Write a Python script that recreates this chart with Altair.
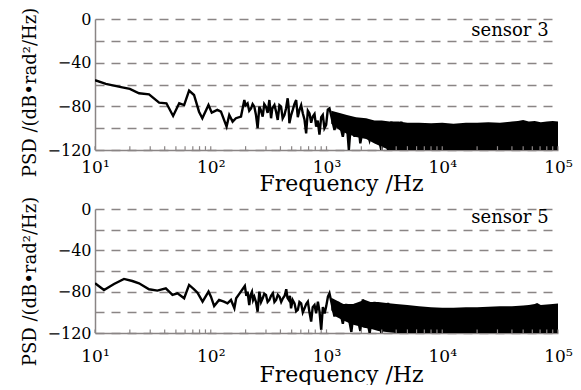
import altair as alt
import pandas as pd

# ---------------- data ----------------
decades = [10, 100, 1000, 10000, 100000]
minor_ticks = [20, 30, 40, 50, 60, 70, 80, 90,
               200, 300, 400, 500, 600, 700, 800, 900,
               2000, 3000, 4000, 5000, 6000, 7000, 8000, 9000,
               20000, 30000, 40000, 50000, 60000, 70000, 80000, 90000]
y_ticks = [0, -20, -40, -60, -80, -100, -120]

# sensor 3 : sparse part of the spectrum (line)
s3_freq = [10, 12.4, 17.2, 20, 24, 29.3, 35.8, 41.4, 47.3, 53.4, 58.9, 65, 71.7, 79.2,
           84.6, 95.6, 102, 114, 122.5, 137, 144.5, 154.5, 165, 182.5, 195, 200, 208,
           215, 223, 230, 238, 246, 254, 263, 270, 281, 290, 300, 310, 321, 332, 340,
           355, 367, 379, 392, 405, 418, 433, 447, 462, 470, 478, 495, 511, 528, 547,
           565, 584, 604, 624, 645, 667, 690, 713, 737, 761, 788, 814, 840, 869, 900,
           929, 960, 993, 1026, 1061, 1172, 1253, 1384, 1482, 1560, 1636, 1747, 1867,
           1958, 2134, 2356, 2604, 2977, 3178, 3398, 3633, 4011, 4432, 4735]
s3_db = [-56, -59.5, -62.6, -64, -68, -69, -76.6, -77.2, -88.8, -77.2, -78.8, -65.6,
         -69.6, -84.9, -90.9, -78.8, -85.8, -83.3, -84.9, -98.6, -87.9, -94, -90.9,
         -89.4, -74.2, -79, -77.2, -84, -81.8, -78, -80.3, -88, -100, -80.3, -83,
         -89.4, -78, -80.3, -86, -74.2, -90.9, -82, -78.8, -85, -92.5, -79, -80.3,
         -91, -87.9, -82, -72.6, -80, -95.5, -88, -83.3, -78, -74.2, -90, -83.3, -79,
         -86.4, -92, -104.7, -84, -86.4, -95, -89.4, -87, -98.6, -93, -106, -90,
         -87.9, -100, -97, -83, -81.8, -101.6, -88, -107.8, -89.4, -120, -91, -107.8,
         -92.5, -113.9, -92.5, -111, -94, -120, -94, -120, -94, -118, -94, -120]

# sensor 3 : dense part of the spectrum (upper / lower envelope)
s3_band_freq = [1100, 1300, 1500, 1800, 2200, 2600, 3000, 3500, 4200, 5000, 6300,
                8000, 10000, 12500, 16000, 20000, 25000, 31500, 40000, 45000, 50000,
                56000, 63000, 71000, 80000, 90000, 100000]
s3_band_top = [-84, -86, -88, -90, -91, -93, -93, -94, -94, -95, -95, -95.5, -95,
               -96, -95, -95, -94.5, -95, -94, -93.5, -92.5, -94, -93.5, -94.5, -94,
               -93.5, -94]
s3_band_bottom = [-96, -102, -105, -108, -110, -114, -117, -120, -120, -120, -120,
                  -120, -120, -120, -120, -120, -120, -120, -120, -120, -120, -120,
                  -120, -120, -120, -120, -120]

# sensor 5 : sparse part
s5_freq = [10, 11.96, 14.6, 17.8, 21, 24, 29.3, 34.6, 40.9, 46.7, 51.6, 58.9, 65, 71.8,
           76.8, 85, 95.7, 100.4, 107, 118, 130, 139.5, 149.6, 160, 165.8, 177.6, 197,
           203, 208, 215, 221, 227, 232, 238, 246, 254, 263, 272, 281, 290, 300, 310,
           321, 332, 344, 355, 367, 380, 393, 406, 420, 435, 449, 460, 472, 483, 494,
           510, 529, 547, 565, 584, 604, 624, 646, 667, 690, 713, 737, 760, 788, 814,
           843, 870, 900, 930, 963, 995, 1029, 1061, 1172, 1260, 1384, 1480, 1640,
           1750, 1960, 2060, 2360, 2600, 2980, 3400, 4000]
s5_db = [-71.9, -78.4, -72.6, -67.7, -69.7, -71.9, -77.7, -79, -76.8, -83.2, -81.6,
         -86.4, -73.5, -77.7, -81, -89.7, -80, -84.9, -93.9, -88, -89.7, -91.3, -88,
         -96.1, -86.4, -81.6, -74.5, -84, -80, -92.9, -83, -80, -88, -84.9, -90,
         -99.4, -80, -90, -86.4, -82, -83.2, -90, -88, -84, -81.6, -90, -88, -83,
         -84.9, -90, -86.4, -84, -77.7, -86, -88, -84, -96.1, -88, -91.3, -99, -97.7,
         -90, -91.3, -100, -96.1, -92, -89.7, -100, -109, -95, -92.9, -101, -89.7,
         -99, -117, -95, -101, -94, -84.9, -81.6, -104, -90, -111, -92, -119, -92,
         -118, -87.5, -120, -90, -120, -91, -120]

s5_band_freq = [1100, 1200, 1400, 1700, 2000, 2100, 2400, 2800, 3300, 4000, 5000,
                6300, 8000, 10000, 12500, 16000, 20000, 25000, 31500, 40000, 50000,
                56000, 63000, 66000, 71000, 80000, 90000, 100000]
s5_band_top = [-86, -88, -92, -92, -89, -87.5, -90, -90, -91, -92, -93, -94, -95,
               -95.5, -95.5, -95, -95, -94.5, -94, -94, -93.5, -93, -92, -91, -93,
               -92.5, -92, -91.5]
s5_band_bottom = [-98, -104, -108, -112, -114, -115, -116, -118, -119, -120,
                  -120, -120, -120, -120, -120, -120, -120, -120, -120, -120, -120,
                  -120, -120, -120, -120, -120, -120, -120]

labels = ["sensor 3", "sensor 5"]
label_freq = [83000, 83000]
label_db = [-11, -9]

TICK_LEN_DB = 3.5
FONT = "DejaVu Serif"
GRAY = "#8a8585"

sup = "datum.value == 10 ? '10\u00b9' : datum.value == 100 ? '10\u00b2' : " \
      "datum.value == 1000 ? '10\u00b3' : datum.value == 10000 ? '10\u2074' : '10\u2075'"


def x_axis(label_pad, title_pad):
    return alt.Axis(values=decades, labelExpr=sup, title="Frequency /Hz",
                    ticks=False, grid=False, domainColor=GRAY,
                    domainWidth=1.5, labelFontSize=17, labelPadding=label_pad,
                    labelColor="black", titleFontSize=22,
                    titleFontWeight="normal", titlePadding=title_pad,
                    titleX=246, labelFlush=False)


def y_axis(title_y):
    return alt.Axis(values=y_ticks,
                    labelExpr="datum.value % 40 == 0 ? format(datum.value, 'd') : ''",
                    title="PSD /(dB\u2022rad\u00b2/Hz)", ticks=False,
                    grid=True, gridDash=[9, 7], gridColor=GRAY,
                    gridWidth=1.3, domainColor=GRAY, domainWidth=1.5,
                    labelFontSize=16, labelColor="black", labelPadding=4,
                    titleFontSize=18, titleFontWeight="normal",
                    titlePadding=8, titleY=title_y)


def panel(freq, db, bfreq, btop, bbot, label, lfreq, ldb, height, title_y,
          label_pad, title_pad):
    xs = alt.Scale(type="log", domain=[10, 100000], nice=False)
    ys = alt.Scale(domain=[-120, 0], nice=False)
    xax = x_axis(label_pad, title_pad)
    yax = y_axis(title_y)
    line_df = pd.DataFrame({"freq": freq, "db": db})
    band_df = pd.DataFrame({"freq": bfreq, "top": btop, "bottom": bbot})
    tick_df = pd.DataFrame({"freq": decades + minor_ticks})
    tick_df["y0"] = -120
    tick_df["y1"] = -120 + TICK_LEN_DB
    lab_df = pd.DataFrame({"freq": [lfreq], "db": [ldb], "text": [label]})

    X = lambda f: alt.X(f, type="quantitative", scale=xs, axis=xax)
    Y = lambda f: alt.Y(f, type="quantitative", scale=ys, axis=yax)

    line = alt.Chart(line_df).mark_line(color="black", strokeWidth=2.4, clip=True).encode(
        x=X("freq"), y=Y("db"))
    band = alt.Chart(band_df).mark_area(color="black", clip=True, opacity=1).encode(
        x=X("freq"), y=Y("top"), y2="bottom:Q")
    ticks = alt.Chart(tick_df).mark_rule(color=GRAY, strokeWidth=1.2).encode(
        x=X("freq"), y=Y("y0"), y2="y1:Q")
    text = alt.Chart(lab_df).mark_text(align="right", baseline="middle", fontSize=18,
                                       font=FONT, color="black").encode(
        x=X("freq"), y=Y("db"), text="text:N")
    return alt.layer(line, band, ticks, text).properties(width=463, height=height)


top = panel(s3_freq, s3_db, s3_band_freq, s3_band_top, s3_band_bottom,
            labels[0], label_freq[0], label_db[0], 131, 73, 9, -2)
bottom = panel(s5_freq, s5_db, s5_band_freq, s5_band_top, s5_band_bottom,
               labels[1], label_freq[1], label_db[1], 124, 72, 15, 0)

chart = alt.vconcat(top, bottom, spacing=2).properties(
    padding={"left": 21, "top": 7, "right": 5, "bottom": 0},
    background="white"
).configure(font=FONT).configure_view(stroke=None).configure_axis(
    labelFont=FONT, titleFont=FONT)

chart.save("out.html", embed_options={"renderer": "svg", "actions": False})
